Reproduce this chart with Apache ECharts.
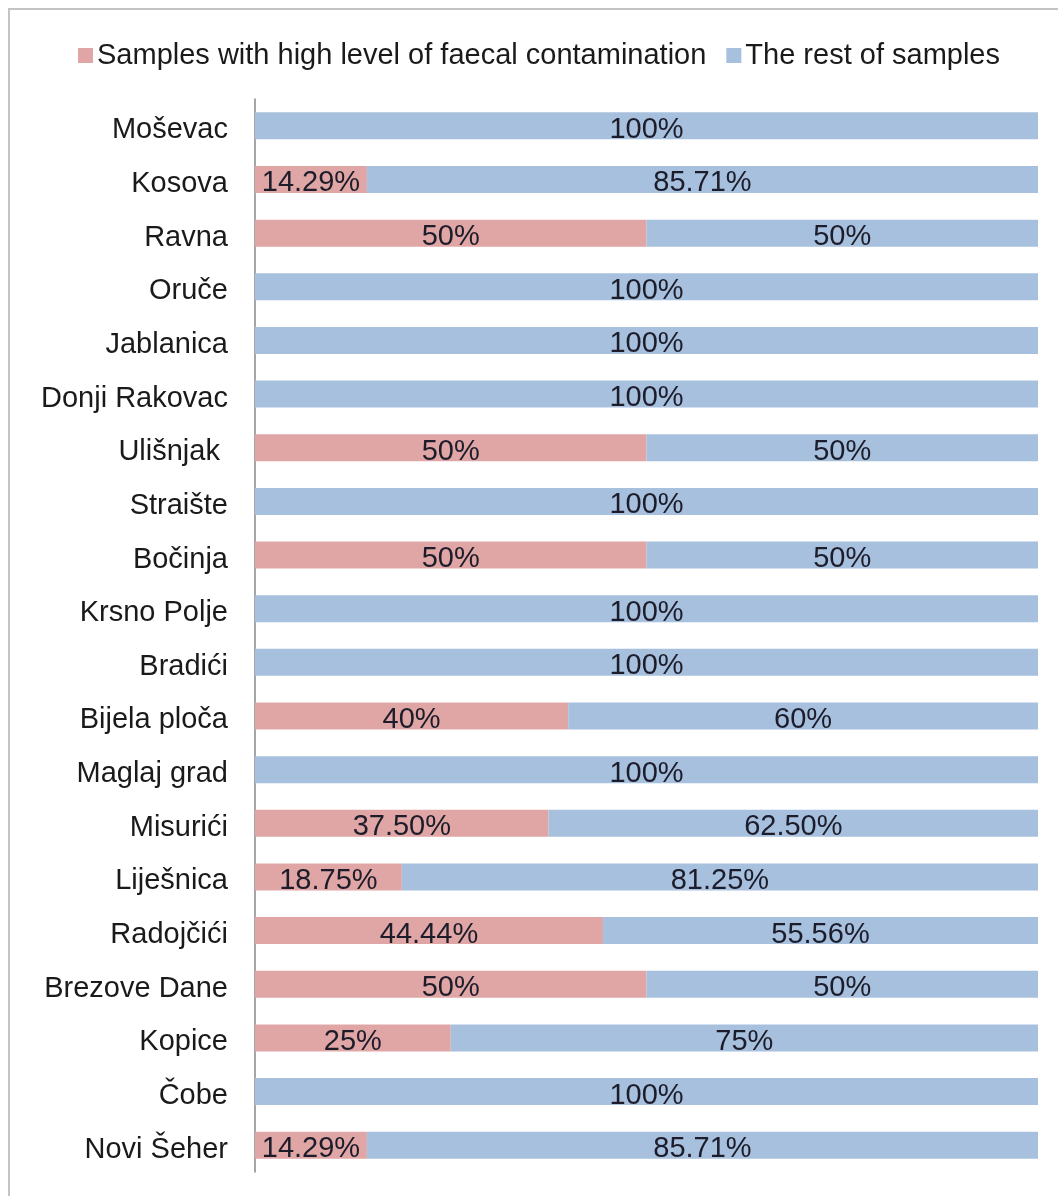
<!DOCTYPE html>
<html>
<head>
<meta charset="utf-8">
<script src="https://cdn.jsdelivr.net/npm/echarts@6/dist/echarts.min.js"></script>
<style>
  html, body { margin: 0; padding: 0; background: #fff; }
  #chart { width: 1058px; height: 1196px; }
</style>
</head>
<body>
<div id="chart"></div>
<script>
var places = ['Moševac', 'Kosova', 'Ravna', 'Oruče', 'Jablanica', 'Donji Rakovac', 'Ulišnjak ',
    'Straište', 'Bočinja', 'Krsno Polje', 'Bradići', 'Bijela ploča', 'Maglaj grad', 'Misurići',
    'Liješnica', 'Radojčići', 'Brezove Dane', 'Kopice', 'Čobe', 'Novi Šeher'];
var highFaecal = [0, 14.29, 50, 0, 0, 0, 50, 0, 50, 0, 0, 40, 0, 37.5, 18.75, 44.44, 50, 25, 0, 14.29];
var restSamples = [100, 85.71, 50, 100, 100, 100, 50, 100, 50, 100, 100, 60, 100, 62.5, 81.25, 55.56, 50, 75, 100, 85.71];
var seriesNames = ['Samples with high level of faecal contamination', 'The rest of samples'];

var myChart = echarts.init(document.getElementById('chart'));

// 37.5 -> "37.50%", 50 -> "50%", 0 -> no label
function pctLabel(p) {
    var v = p.value;
    if (!v) return '';
    return (Math.round(v) === v ? v : v.toFixed(2)) + '%';
}

myChart.setOption({
    animation: false,
    textStyle: { fontFamily: 'Liberation Sans, Arial, sans-serif' },
    graphic: [{
        type: 'rect',
        shape: { x: 9, y: 9, width: 1200, height: 1400 },
        style: { fill: 'none', stroke: '#c4c4c4', lineWidth: 2 },
        silent: true
    }],
    legend: {
        data: seriesNames,
        left: 73,
        top: 36,
        itemWidth: 15,
        itemHeight: 15,
        itemGap: 20,
        icon: 'rect',
        selectedMode: false,
        textStyle: { fontSize: 29, color: '#1a1a1a', padding: [4, 0, 0, -1] }
    },
    grid: { left: 255, right: 20, top: 99, bottom: 24 },
    xAxis: {
        type: 'value',
        min: 0,
        max: 100,
        show: false
    },
    yAxis: {
        type: 'category',
        data: places,
        inverse: true,
        axisLine: { lineStyle: { color: '#888', width: 1.5 } },
        axisTick: { show: false },
        axisLabel: {
            fontSize: 29, color: '#1a1a1a', margin: 27,
            lineHeight: 29, height: 29, verticalAlign: 'top', padding: [-10, 0, 0, 0]
        }
    },
    series: [{
        name: seriesNames[0],
        type: 'bar',
        stack: 'all',
        barWidth: 27,
        data: highFaecal,
        itemStyle: { color: '#e0a6a5' },
        label: { show: true, position: 'inside', offset: [0, 4], fontSize: 29, color: '#1c1c2a', formatter: pctLabel }
    }, {
        name: seriesNames[1],
        type: 'bar',
        stack: 'all',
        barWidth: 27,
        data: restSamples,
        itemStyle: { color: '#a7c0de' },
        label: { show: true, position: 'inside', offset: [0, 4], fontSize: 29, color: '#1c1c2a', formatter: pctLabel }
    }]
});

window.onresize = function () {
    myChart.resize();
}
</script>
</body>
</html>
